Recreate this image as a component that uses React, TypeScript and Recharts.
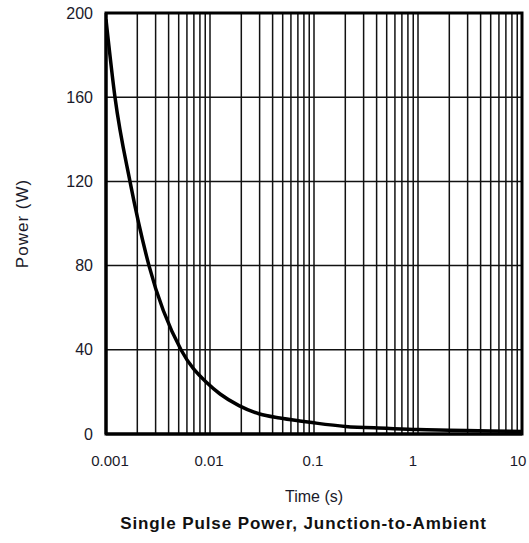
import { CartesianGrid, Line, LineChart, ReferenceArea, XAxis, YAxis } from 'recharts';

// time (s) and single pulse power (W)
const times = [0.001, 0.00122, 0.0017, 0.00259, 0.00526, 0.0094, 0.0125, 0.019, 0.03, 0.047, 0.073, 0.1, 0.2, 0.5, 1, 2, 5, 10];
const power = [197, 160, 120, 80, 40, 24.2, 19, 13.5, 9.5, 7.6, 6.2, 5.3, 3.6, 2.7, 2.1, 1.8, 1.4, 1.2];

const xDecades = [0.001, 0.01, 0.1, 1, 10];
const xDecadeLabels = ['0.001', '0.01', '0.1', '1', '10'];
const xGridTicks = [
  0.001, 0.002, 0.003, 0.004, 0.005, 0.006, 0.007, 0.008, 0.009,
  0.01, 0.02, 0.03, 0.04, 0.05, 0.06, 0.07, 0.08, 0.09,
  0.1, 0.2, 0.3, 0.4, 0.5, 0.6, 0.7, 0.8, 0.9,
  1, 2, 3, 4, 5, 6, 7, 8, 9,
  10,
];
const yTicks = [0, 40, 80, 120, 160, 200];

// small horizontal nudges of the decade labels, as in the original figure
const labelShift = [4, -1, -1, -5, -4];

const data = times.map((t, i) => ({ t, p: power[i] }));

const font = '"Liberation Sans", Arial, sans-serif';
const textColor = '#1a1a2a';

const XTick = (props: any) => {
  const { x, y, payload } = props;
  const i = xDecades.findIndex(d => Math.abs(d - payload.value) < d * 1e-6);
  if (i < 0) return null;
  return (
    <text x={x + labelShift[i]} y={y} dy="0.71em" textAnchor="middle" fontSize={15} fill={textColor} fontFamily={font}>
      {xDecadeLabels[i]}
    </text>
  );
};

export default function App() {
  return (
    <div style={{ position: 'absolute', left: 0, top: 0, width: 529, height: 543, background: '#fff', fontFamily: font }}>
      <LineChart width={529} height={543} data={data} margin={{ top: 13, right: 7, bottom: 39, left: 0 }}>
        <CartesianGrid stroke="#111" strokeWidth={1.5} vertical horizontal />
        <XAxis
          dataKey="t"
          type="number"
          scale="log"
          domain={[0.001, 10]}
          ticks={xGridTicks}
          interval={0}
          tick={<XTick />}
          tickSize={0}
          tickMargin={21}
          axisLine={{ stroke: '#000', strokeWidth: 3 }}
          height={70}
          allowDataOverflow
          label={{ value: 'Time (s)', position: 'insideBottom', offset: 2, fontSize: 16, fill: textColor, fontFamily: font }}
        />
        <YAxis
          type="number"
          domain={[0, 200]}
          ticks={yTicks}
          interval={0}
          tick={{ fontSize: 16, fill: textColor, fontFamily: font }}
          tickSize={0}
          tickMargin={13}
          axisLine={{ stroke: '#000', strokeWidth: 3 }}
          width={106}
          label={{
            value: 'Power  (W)',
            angle: -90,
            position: 'insideLeft',
            offset: 22,
            fontSize: 17,
            fill: textColor,
            fontFamily: font,
            style: { textAnchor: 'middle', letterSpacing: 1, whiteSpace: 'pre' },
          }}
        />
        <ReferenceArea x1={0.001} x2={10} y1={0} y2={200} fill="none" stroke="#000" strokeWidth={3} />
        <Line
          type="monotone"
          dataKey="p"
          stroke="#000"
          strokeWidth={3.5}
          dot={false}
          isAnimationActive={false}
        />
      </LineChart>
      <div
        style={{
          position: 'absolute',
          left: 0,
          width: 607,
          top: 514,
          textAlign: 'center',
          fontWeight: 'bold',
          fontSize: 17,
          letterSpacing: 0.9,
          color: '#111',
          whiteSpace: 'nowrap',
        }}
      >
        Single Pulse Power, Junction-to-Ambient
      </div>
    </div>
  );
}
